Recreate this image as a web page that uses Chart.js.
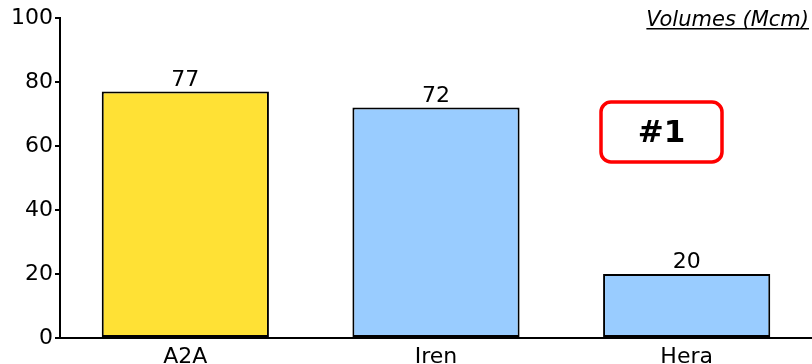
<!DOCTYPE html>
<html>
<head>
<meta charset="utf-8">
<script src="https://cdn.jsdelivr.net/npm/chart.js@4/dist/chart.umd.min.js"></script>
<style>
  html, body { margin: 0; padding: 0; background: #fff; }
  #wrap { width: 812px; height: 364px; }
</style>
</head>
<body>
<div id="wrap"><canvas id="volCanvas"></canvas></div>
<script>
const companies = ["A2A", "Iren", "Hera"];
const volumes = [77, 72, 20];
const barColors = ["#FFE135", "#99CCFF", "#99CCFF"];
const yTicks = [0, 20, 40, 60, 80, 100];
const unitLabel = "Volumes (Mcm)";
const rankLabel = "#1";

const FONT = "'DejaVu Sans', Verdana, sans-serif";

// value on top of each bar + unit caption + rank box
const extras = {
  id: "extras",
  afterDatasetsDraw(chart) {
    const ctx = chart.ctx;
    const meta = chart.getDatasetMeta(0);
    ctx.save();
    ctx.fillStyle = "#000";
    ctx.font = "22px " + FONT;
    ctx.textAlign = "center";
    ctx.textBaseline = "alphabetic";
    meta.data.forEach((bar, i) => {
      ctx.fillText(volumes[i], bar.x, bar.y - 6);
    });

    // caption top right, italic underlined
    ctx.font = "italic 21px " + FONT;
    ctx.textAlign = "right";
    const capX = 809, capY = 26;
    ctx.fillText(unitLabel, capX, capY);
    const w = ctx.measureText(unitLabel).width;
    ctx.fillRect(capX - w, capY + 2, w, 1.5);

    // rank box
    const bx = 601, by = 102, bw = 121, bh = 60, r = 10;
    ctx.beginPath();
    ctx.roundRect(bx, by, bw, bh, r);
    ctx.lineWidth = 3.5;
    ctx.strokeStyle = "#FF0000";
    ctx.fillStyle = "#fff";
    ctx.fill();
    ctx.stroke();
    ctx.fillStyle = "#000";
    ctx.font = "bold 31px " + FONT;
    ctx.textAlign = "center";
    ctx.textBaseline = "middle";
    ctx.fillText(rankLabel, bx + bw / 2, by + bh / 2 + 2);
    ctx.restore();
  }
};

new Chart(document.getElementById("volCanvas"), {
  type: "bar",
  data: {
    labels: companies,
    datasets: [{
      data: volumes,
      backgroundColor: barColors,
      borderColor: "#000",
      borderWidth: 2,
      borderSkipped: false,
      barPercentage: 0.667,
      categoryPercentage: 1
    }]
  },
  options: {
    responsive: true,
    maintainAspectRatio: false,
    animation: false,
    layout: { padding: { top: 18, right: 0, left: 0, bottom: 0 } },
    plugins: { legend: { display: false }, tooltip: { enabled: false } },
    scales: {
      x: {
        grid: { display: true, drawOnChartArea: false, drawTicks: false },
        border: { display: true, color: "#000", width: 2 },
        ticks: { color: "#000", font: { size: 22, family: FONT }, padding: 6 },
        afterFit(scale) { scale.height = 26; }
      },
      y: {
        min: 0,
        max: 100,
        afterBuildTicks(scale) { scale.ticks = yTicks.map(v => ({ value: v })); },
        grid: { drawOnChartArea: false, drawTicks: true, tickLength: 5, color: "#000", lineWidth: 2 },
        border: { display: true, color: "#000", width: 2 },
        ticks: { color: "#000", font: { size: 22, family: FONT }, padding: 2 },
        afterFit(scale) { scale.width = 60; }
      }
    }
  },
  plugins: [extras]
});
</script>
</body>
</html>
